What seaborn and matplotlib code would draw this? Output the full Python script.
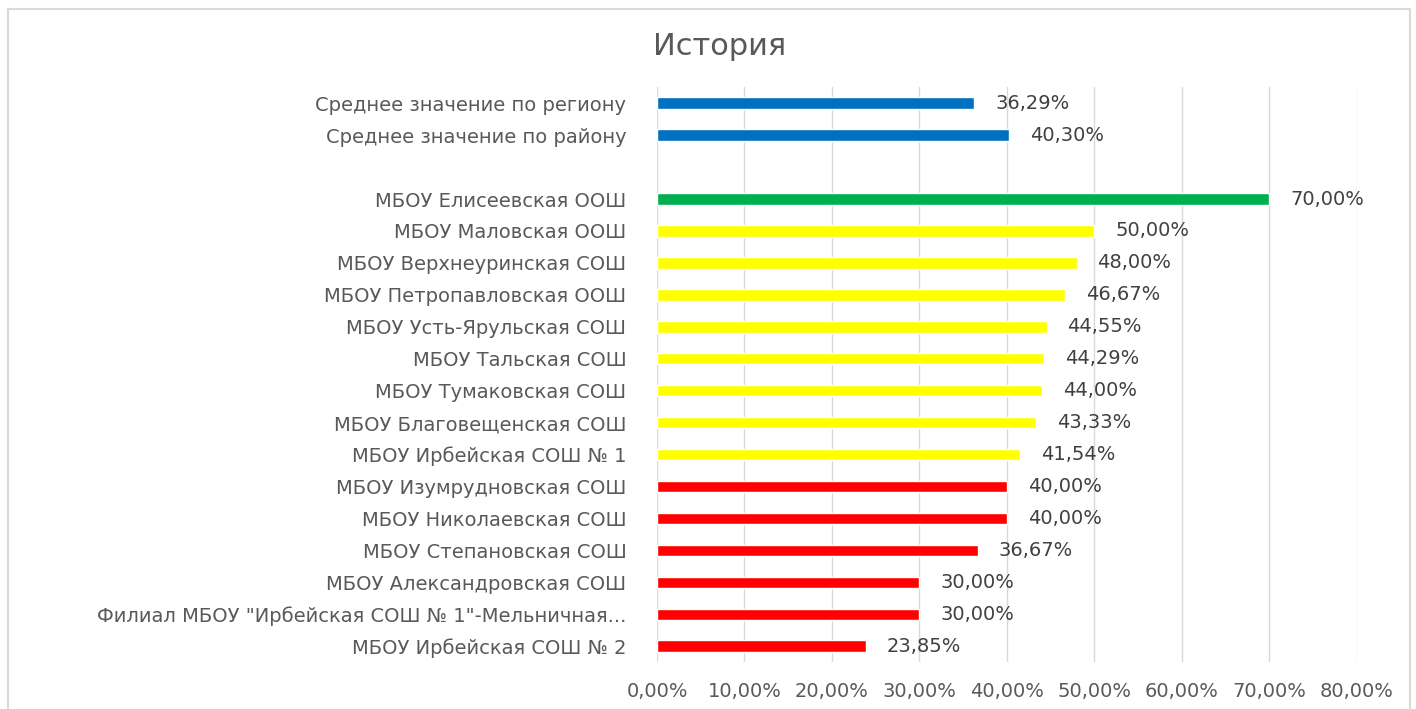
import matplotlib
matplotlib.use('Agg')
import matplotlib.pyplot as plt
import seaborn as sns
import pandas as pd
from matplotlib.patches import Rectangle

schools = [
    'Среднее значение по региону',
    'Среднее значение по району',
    ' ',
    'МБОУ Елисеевская ООШ',
    'МБОУ Маловская ООШ',
    'МБОУ Верхнеуринская СОШ',
    'МБОУ Петропавловская ООШ',
    'МБОУ Усть-Ярульская СОШ',
    'МБОУ Тальская СОШ',
    'МБОУ Тумаковская СОШ',
    'МБОУ Благовещенская СОШ',
    'МБОУ Ирбейская СОШ № 1',
    'МБОУ Изумрудновская СОШ',
    'МБОУ Николаевская СОШ',
    'МБОУ Степановская СОШ',
    'МБОУ Александровская СОШ',
    'Филиал МБОУ "Ирбейская СОШ № 1"-Мельничная...',
    'МБОУ Ирбейская СОШ № 2',
]
values = [36.29, 40.30, None, 70.00, 50.00, 48.00, 46.67, 44.55, 44.29, 44.00,
          43.33, 41.54, 40.00, 40.00, 36.67, 30.00, 30.00, 23.85]
groups = ['avg', 'avg', 'avg', 'best', 'mid', 'mid', 'mid', 'mid', 'mid', 'mid',
          'mid', 'mid', 'low', 'low', 'low', 'low', 'low', 'low']
palette = {'avg': '#0070C0', 'best': '#00B050', 'mid': '#FFFF00', 'low': '#FF0000'}
x_ticks = [0, 10, 20, 30, 40, 50, 60, 70, 80]

df = pd.DataFrame({'school': schools, 'value': values, 'group': groups}).dropna()

sns.set_style('white')
plt.rcParams['font.family'] = ['DejaVu Sans']
text_color = '#595959'

fig = plt.figure(figsize=(14.16, 7.09), dpi=100)
ax = fig.add_axes([0.464, 0.066, 0.494, 0.811])

sns.barplot(data=df, x='value', y='school', hue='group', order=schools,
            palette=palette, saturation=1, dodge=False, width=0.36, legend=False,
            orient='h', ax=ax)

for cont in ax.containers:
    ax.bar_label(cont, labels=[f'{v:.2f}%'.replace('.', ',') for v in cont.datavalues],
                 padding=15, fontsize=14, color='#404040')

ax.set_xlim(0, 80)
ax.set_xticks(x_ticks)
ax.set_xticklabels([f'{t:.2f}%'.replace('.', ',') for t in x_ticks], fontsize=14, color=text_color)
ax.tick_params(axis='x', length=0, pad=14)
ax.tick_params(axis='y', length=0, pad=22, labelsize=14, labelcolor=text_color)
ax.set_xlabel('')
ax.set_ylabel('')
ax.grid(axis='x', color='#d9d9d9', linewidth=1)
ax.set_axisbelow(True)
for s in ax.spines.values():
    s.set_visible(False)

fig.text(0.508, 0.935, 'История', ha='center', va='center', fontsize=22, color=text_color)
fig.patches.append(Rectangle((0.006, -0.01), 0.99, 0.998, transform=fig.transFigure,
                             fill=False, edgecolor='#d9d9d9', linewidth=1.5))

fig.savefig('out.png', dpi=100)
